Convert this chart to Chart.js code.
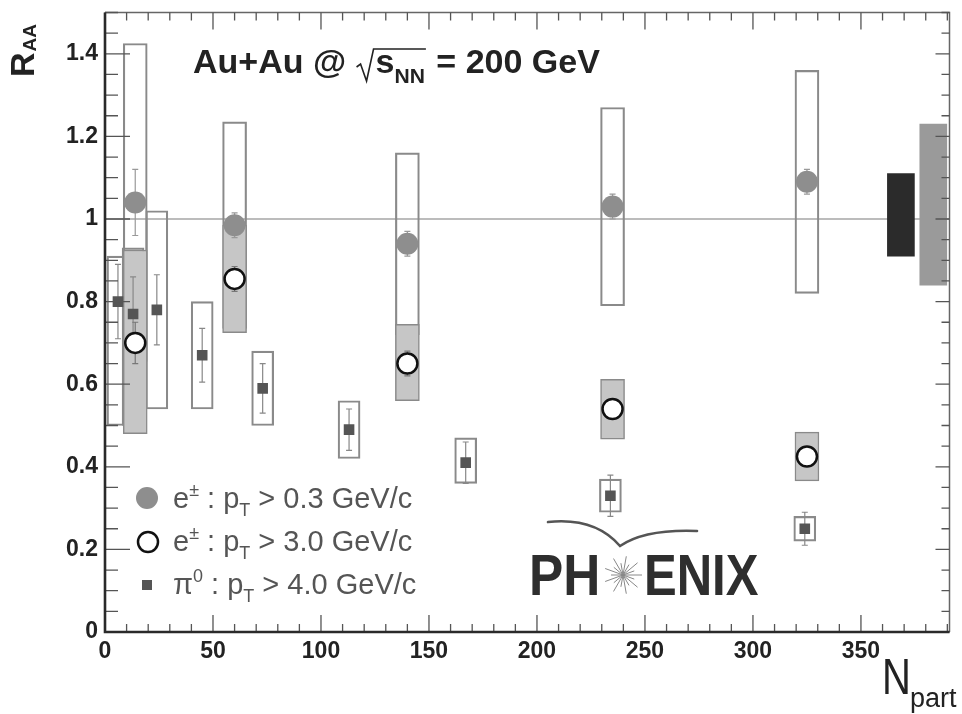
<!DOCTYPE html>
<html>
<head>
<meta charset="utf-8">
<script src="https://cdn.jsdelivr.net/npm/chart.js@4.4.1/dist/chart.umd.min.js"></script>
<style>
  html, body { margin: 0; padding: 0; background: #fff; }
  #wrap { width: 962px; height: 714px; }
</style>
</head>
<body>
<div id="wrap"><canvas id="raa"></canvas></div>
<script>
// electrons, pT > 0.3 and pT > 3.0 GeV/c (same centrality bins)
const nPartE = [14, 60, 140, 235, 325];
const raaLowPt = [1.04, 0.985, 0.94, 1.03, 1.09];
const errLowPt = [0.08, 0.03, 0.03, 0.03, 0.03];
const sysLowPt = [[0.655, 1.425], [0.735, 1.235], [0.72, 1.16], [0.79, 1.27], [0.82, 1.36]];
const raaHighPt = [0.70, 0.855, 0.65, 0.54, 0.425];
const errHighPt = [0.05, 0.03, 0.03, 0.02, 0.02];
const sysHighPt = [[0.48, 0.925], [0.725, 0.985], [0.56, 0.745], [0.467, 0.612], [0.366, 0.484]];

// pi0, pT > 4.0 GeV/c
const nPartPi0 = [6, 13, 24, 45, 73, 113, 167, 234, 324];
const raaPi0 = [0.80, 0.77, 0.78, 0.67, 0.59, 0.49, 0.41, 0.33, 0.25];
const errPi0 = [0.09, 0.09, 0.085, 0.065, 0.06, 0.05, 0.05, 0.05, 0.04];
const sysPi0 = [[0.50, 0.91], [0.50, 0.93], [0.54, 1.02], [0.54, 0.80], [0.50, 0.68],
                [0.42, 0.56], [0.36, 0.47], [0.29, 0.37], [0.22, 0.28]];

// overall normalisation uncertainties, drawn at the right edge
const normNPart = [368.5, 383.5];
const normBox = [[0.91, 1.11], [0.84, 1.23]];

const xTicks = [0, 50, 100, 150, 200, 250, 300, 350];
const yTicks = [0, 0.2, 0.4, 0.6, 0.8, 1, 1.2, 1.4];

const pts = (xs, ys) => xs.map((x, i) => ({ x: x, y: ys[i] }));
const FONT = '"Liberation Sans", Arial, Helvetica, sans-serif';

const errorBars = {
  id: 'errorBars',
  beforeDatasetDraw(chart, args) {
    const ds = chart.data.datasets[args.index];
    if (!ds.errors) return;
    const y = chart.scales.y, ctx = chart.ctx;
    ctx.save();
    ctx.strokeStyle = ds.errorColor;
    ctx.lineWidth = 1.2;
    args.meta.data.forEach((pt, i) => {
      const v = ds.data[i].y, e = ds.errors[i];
      const top = y.getPixelForValue(v + e), bot = y.getPixelForValue(v - e);
      ctx.beginPath();
      ctx.moveTo(pt.x, top); ctx.lineTo(pt.x, bot);
      ctx.moveTo(pt.x - 3, top); ctx.lineTo(pt.x + 3, top);
      ctx.moveTo(pt.x - 3, bot); ctx.lineTo(pt.x + 3, bot);
      ctx.stroke();
    });
    ctx.restore();
  }
};

function rich(ctx, x, y, parts, size, weight) {
  parts.forEach(p => {
    const small = p.sub || p.sup;
    ctx.font = weight + ' ' + (small ? size * 0.62 : size) + 'px ' + FONT;
    const dy = p.sub ? size * 0.28 : p.sup ? -size * 0.42 : 0;
    ctx.fillText(p.t, x, y + dy);
    x += ctx.measureText(p.t).width;
  });
  return x;
}

const rootFrame = {
  id: 'rootFrame',
  afterDraw(chart) {
    const { ctx, chartArea: a, scales: { x, y } } = chart;
    ctx.save();
    // frame
    ctx.strokeStyle = '#666'; ctx.lineWidth = 1.5;
    ctx.beginPath();
    ctx.moveTo(a.left, a.top); ctx.lineTo(a.right, a.top); ctx.lineTo(a.right, a.bottom);
    ctx.stroke();
    // ticks
    ctx.lineWidth = 1.3; ctx.strokeStyle = '#555';
    ctx.beginPath();
    for (let v = 0; v <= 391; v += 10) {
      const px = x.getPixelForValue(v), major = v % 50 === 0;
      ctx.moveTo(px, a.bottom); ctx.lineTo(px, a.bottom - (major ? 17 : 8));
      ctx.moveTo(px, a.top); ctx.lineTo(px, a.top + (major ? 17 : 8));
    }
    for (let k = 0; k <= 30; k++) {
      const v = k * 0.05, py = y.getPixelForValue(v), major = k % 4 === 0;
      ctx.moveTo(a.left, py); ctx.lineTo(a.left + (major ? 25 : 13), py);
      ctx.moveTo(a.right, py); ctx.lineTo(a.right - (major ? 14 : 8), py);
    }
    ctx.stroke();
    ctx.strokeStyle = '#2a2a2a'; ctx.lineWidth = 2.6;
    ctx.beginPath();
    ctx.moveTo(a.left, a.top); ctx.lineTo(a.left, a.bottom); ctx.lineTo(a.right, a.bottom);
    ctx.stroke();

    // title
    ctx.fillStyle = '#222'; ctx.textBaseline = 'alphabetic';
    let tx = rich(ctx, 193, 73, [{ t: 'Au+Au @ ' }], 34, 'bold');
    ctx.strokeStyle = '#222'; ctx.lineWidth = 1.6;
    ctx.beginPath();
    ctx.moveTo(tx + 1, 67); ctx.lineTo(tx + 5, 64); ctx.lineTo(tx + 11, 81); ctx.lineTo(tx + 18, 49);
    const sx = tx + 20;
    let ex = rich(ctx, sx, 73, [{ t: 's' }, { t: 'NN', sub: true }], 34, 'bold');
    ctx.lineTo(ex + 1, 49);
    ctx.stroke();
    rich(ctx, ex + 2, 73, [{ t: ' = 200 GeV' }], 34, 'bold');

    // legend
    ctx.fillStyle = '#8e8e8e';
    ctx.beginPath(); ctx.arc(147, 498, 11, 0, Math.PI * 2); ctx.fill();
    ctx.fillStyle = '#fff'; ctx.strokeStyle = '#111'; ctx.lineWidth = 2.5;
    ctx.beginPath(); ctx.arc(148, 542, 10, 0, Math.PI * 2); ctx.fill(); ctx.stroke();
    ctx.fillStyle = '#555';
    ctx.fillRect(142, 580, 10, 10);
    ctx.fillStyle = '#555';
    rich(ctx, 173, 508, [{ t: 'e' }, { t: '\u00b1', sup: true }, { t: ' : p' }, { t: 'T', sub: true }, { t: ' > 0.3 GeV/c' }], 29, 'normal');
    rich(ctx, 173, 551, [{ t: 'e' }, { t: '\u00b1', sup: true }, { t: ' : p' }, { t: 'T', sub: true }, { t: ' > 3.0 GeV/c' }], 29, 'normal');
    rich(ctx, 173, 594, [{ t: '\u03c0' }, { t: '0', sup: true }, { t: ' : p' }, { t: 'T', sub: true }, { t: ' > 4.0 GeV/c' }], 29, 'normal');

    // PHENIX logo
    ctx.fillStyle = '#2e2e2e';
    ctx.save();
    ctx.translate(529, 595); ctx.scale(0.9, 1);
    ctx.font = 'bold 57px ' + FONT;
    ctx.fillText('PH', 0, 0);
    ctx.restore();
    ctx.save();
    ctx.translate(644, 595); ctx.scale(0.86, 1);
    ctx.font = 'bold 57px ' + FONT;
    ctx.fillText('ENIX', 0, 0);
    ctx.restore();
    ctx.strokeStyle = '#888'; ctx.lineWidth = 1;
    ctx.beginPath();
    for (let k = 0; k < 18; k++) {
      const ang = k * Math.PI / 9, r = k % 2 ? 12 : 19;
      ctx.moveTo(623, 575); ctx.lineTo(623 + r * Math.cos(ang), 575 + r * Math.sin(ang));
    }
    ctx.stroke();
    ctx.strokeStyle = '#555'; ctx.lineWidth = 2.6; ctx.lineCap = 'round';
    ctx.beginPath();
    ctx.moveTo(548, 522); ctx.quadraticCurveTo(595, 517, 620, 546);
    ctx.moveTo(620, 546); ctx.quadraticCurveTo(645, 529, 697, 531);
    ctx.stroke();

    // axis titles
    ctx.fillStyle = '#222';
    ctx.save();
    ctx.translate(882, 694); ctx.scale(0.8, 1);
    ctx.font = '50px ' + FONT;
    ctx.fillText('N', 0, 0);
    ctx.restore();
    ctx.font = '27px ' + FONT;
    ctx.fillText('part', 910, 707);
    ctx.save();
    ctx.translate(34, 77); ctx.rotate(-Math.PI / 2);
    ctx.font = 'bold 34px ' + FONT;
    ctx.fillText('R', 0, 0);
    const rw = ctx.measureText('R').width;
    ctx.font = 'bold 19px ' + FONT;
    ctx.fillText('AA', rw + 1, 2);
    ctx.restore();
    ctx.restore();
  }
};

const tickFont = { family: FONT, size: 23, weight: 'bold' };

new Chart(document.getElementById('raa'), {
  type: 'scatter',
  data: {
    datasets: [
      { label: 'e, pT > 0.3', data: pts(nPartE, raaLowPt), errors: errLowPt, errorColor: '#999',
        pointStyle: 'circle', pointRadius: 11, backgroundColor: '#8e8e8e', borderColor: '#8e8e8e', borderWidth: 0, order: 0 },
      { label: 'e, pT > 3.0', data: pts(nPartE, raaHighPt), errors: errHighPt, errorColor: '#777',
        pointStyle: 'circle', pointRadius: 10, backgroundColor: '#fff', borderColor: '#111', borderWidth: 2.5, order: 1 },
      { label: 'pi0, pT > 4.0', data: pts(nPartPi0, raaPi0), errors: errPi0, errorColor: '#888',
        pointStyle: 'rect', pointRadius: 7.5, backgroundColor: '#555', borderColor: '#555', borderWidth: 0, order: 2 },
      { type: 'bar', label: 'sys e, pT > 3.0', data: pts(nPartE, sysHighPt), grouped: false, barThickness: 24,
        backgroundColor: '#c6c6c6', borderColor: '#8a8a8a', borderWidth: 1.5, borderSkipped: false, order: 5 },
      { type: 'bar', label: 'sys e, pT > 0.3', data: pts(nPartE, sysLowPt), grouped: false, barThickness: 24,
        backgroundColor: 'rgba(255,255,255,0)', borderColor: '#8a8a8a', borderWidth: 1.5, borderSkipped: false, order: 6 },
      { type: 'bar', label: 'sys pi0', data: pts(nPartPi0, sysPi0), grouped: false, barThickness: 22,
        backgroundColor: 'rgba(255,255,255,0)', borderColor: '#8a8a8a', borderWidth: 1.5, borderSkipped: false, order: 7 },
      { type: 'bar', label: 'normalisation', data: pts(normNPart, normBox), grouped: false, barThickness: 27,
        backgroundColor: ['#2b2b2b', '#9a9a9a'], borderColor: ['#2b2b2b', '#9a9a9a'], borderWidth: 0, borderSkipped: false, order: 4 },
      { type: 'line', label: 'unity', data: [{ x: 0, y: 1 }, { x: 391, y: 1 }], borderColor: '#7a7a7a', borderWidth: 1.2,
        pointRadius: 0, fill: false, order: 9 }
    ]
  },
  options: {
    responsive: true,
    maintainAspectRatio: false,
    animation: false,
    devicePixelRatio: 1,
    layout: { padding: { left: 0, right: 7, top: 10, bottom: 0 } },
    plugins: { legend: { display: false }, tooltip: { enabled: false } },
    scales: {
      x: {
        type: 'linear', min: 0, max: 391, offset: false,
        grid: { display: false, drawTicks: false }, border: { display: false },
        afterBuildTicks: s => { s.ticks = xTicks.map(v => ({ value: v })); },
        afterFit: s => { s.height = 82; s.paddingLeft = 0; s.paddingRight = 0; },
        ticks: { padding: 6, maxRotation: 0, autoSkip: false, font: tickFont, color: '#222',
                 callback: v => String(v) }
      },
      y: {
        type: 'linear', min: 0, max: 1.5,
        grid: { display: false, drawTicks: false }, border: { display: false },
        afterBuildTicks: s => { s.ticks = yTicks.map(v => ({ value: v })); },
        afterFit: s => { s.width = 105; s.paddingTop = 0; s.paddingBottom = 0; },
        ticks: { padding: 7, autoSkip: false, font: tickFont, color: '#222',
                 callback: v => String(+v.toFixed(2)) }
      }
    }
  },
  plugins: [errorBars, rootFrame]
});
</script>
</body>
</html>
